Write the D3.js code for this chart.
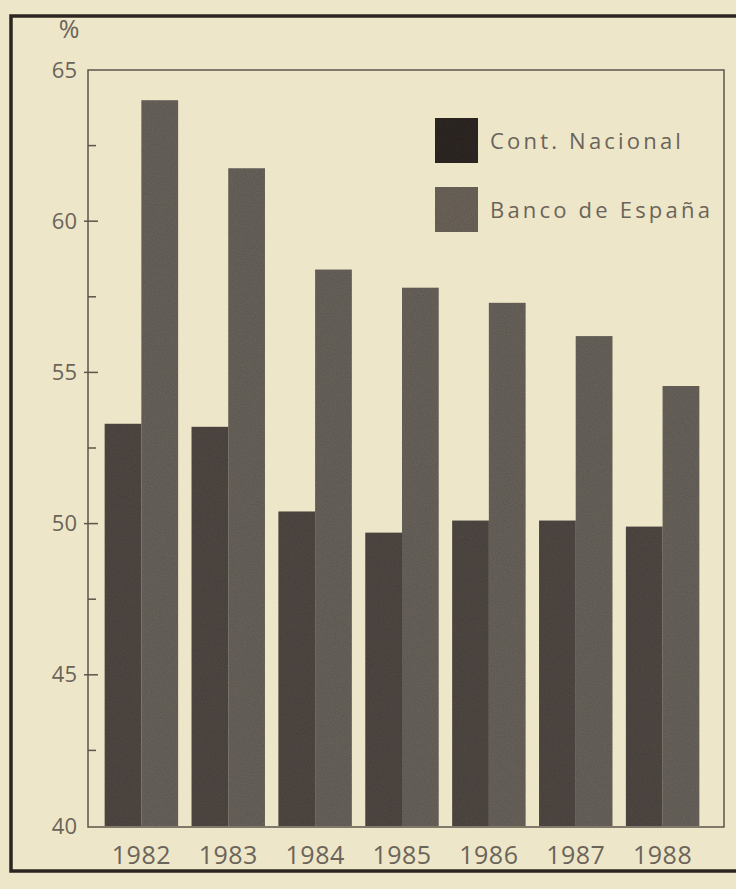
<!DOCTYPE html>
<html>
<head>
<meta charset="utf-8">
<script src="https://cdn.jsdelivr.net/npm/d3@7/dist/d3.min.js"></script>
<style>
  html, body { margin: 0; padding: 0; background: #eee6c9; }
  svg { display: block; }
  text { font-family: "Open Sans", "DejaVu Sans", sans-serif; fill: #6a6459; }
</style>
</head>
<body>
<script>
const years = ["1982", "1983", "1984", "1985", "1986", "1987", "1988"];
const contNacional = [53.3, 53.2, 50.4, 49.7, 50.1, 50.1, 49.9];
const bancoEspana = [64.0, 61.75, 58.4, 57.8, 57.3, 56.2, 54.55];
const seriesNames = ["Cont. Nacional", "Banco de España"];
const yTicks = [40, 45, 50, 55, 60, 65];
const yMinorTicks = [42.5, 47.5, 52.5, 57.5, 62.5];

const W = 736, H = 889;
const colors = ["#524c46", "#6c665e"];
const legendColors = ["#302b27", "#6f675d"];

const svg = d3.select("body").append("svg").attr("width", W).attr("height", H);

svg.append("rect").attr("width", W).attr("height", H).attr("fill", "#eee6c9");

// outer frame
svg.append("rect")
  .attr("x", 11).attr("y", 16).attr("width", W + 20).attr("height", 855)
  .attr("fill", "none").attr("stroke", "#2b2621").attr("stroke-width", 3.5);

const plot = { left: 88, right: 724, top: 70, bottom: 827 };

const y = d3.scaleLinear().domain([40, 65]).range([826, 70]);
const x0 = d3.scaleBand().domain(years).range([96, 708]).paddingInner(0.155).paddingOuter(0.1);
const x1 = d3.scaleBand().domain(seriesNames).range([0, x0.bandwidth()]);

// grain filter
const defs = svg.append("defs");
const f = defs.append("filter").attr("id", "grain").attr("x", 0).attr("y", 0).attr("width", 1).attr("height", 1);
f.append("feTurbulence").attr("type", "fractalNoise").attr("baseFrequency", 0.9).attr("numOctaves", 2).attr("seed", 3).attr("result", "noise");
f.append("feColorMatrix").attr("in", "noise").attr("type", "matrix")
  .attr("values", "0 0 0 0 0  0 0 0 0 0  0 0 0 0 0  0 0 0 0.35 0").attr("result", "dark");
f.append("feComposite").attr("in", "dark").attr("in2", "SourceGraphic").attr("operator", "in").attr("result", "darkIn");
f.append("feMerge").selectAll("feMergeNode").data(["SourceGraphic", "darkIn"]).join("feMergeNode").attr("in", d => d);

// bars
const g = svg.append("g");
years.forEach((yr, i) => {
  const vals = [contNacional[i], bancoEspana[i]];
  g.selectAll(null).data(vals).join("rect")
    .attr("x", (d, j) => x0(yr) + x1(seriesNames[j]))
    .attr("y", d => y(d))
    .attr("width", x1.bandwidth())
    .attr("height", d => y(40) - y(d))
    .attr("fill", (d, j) => colors[j])
    .attr("filter", "url(#grain)");
});

// plot frame
svg.append("rect")
  .attr("x", plot.left).attr("y", plot.top)
  .attr("width", plot.right - plot.left).attr("height", plot.bottom - plot.top)
  .attr("fill", "none").attr("stroke", "#5c5549").attr("stroke-width", 1.5);

// y axis ticks
const yAxis = d3.axisLeft(y).tickValues(yTicks).tickSize(0).tickPadding(11).tickFormat(d3.format("d"));
const ya = svg.append("g").attr("transform", `translate(${plot.left},0)`).call(yAxis);
ya.select(".domain").remove();
ya.selectAll("text").attr("font-size", 22).attr("fill", "#6a6459")
  .attr("font-family", "'Open Sans', 'DejaVu Sans', sans-serif");
svg.selectAll(null).data(yTicks.slice(1, -1)).join("line")
  .attr("x1", plot.left - 4).attr("x2", plot.left + 10)
  .attr("y1", d => y(d)).attr("y2", d => y(d))
  .attr("stroke", "#5c5549").attr("stroke-width", 1.5);
svg.selectAll(null).data(yMinorTicks).join("line")
  .attr("x1", plot.left).attr("x2", plot.left + 8)
  .attr("y1", d => y(d)).attr("y2", d => y(d))
  .attr("stroke", "#5c5549").attr("stroke-width", 1.5);

// % label
svg.append("text").attr("x", 69).attr("y", 38).attr("text-anchor", "middle")
  .attr("font-size", 25).text("%");

// x axis
const xAxis = d3.axisBottom(x0).tickSize(0).tickPadding(19);
const xa = svg.append("g").attr("transform", `translate(0,${plot.bottom})`).call(xAxis);
xa.select(".domain").remove();
xa.selectAll("text").attr("font-size", 25).attr("fill", "#6a6459").attr("letter-spacing", 0.5)
  .attr("font-family", "'Open Sans', 'DejaVu Sans', sans-serif");

// legend
const legend = svg.append("g");
seriesNames.forEach((name, j) => {
  const ly = 118 + j * 69;
  legend.append("rect").attr("x", 435).attr("y", ly).attr("width", 43).attr("height", 45)
    .attr("fill", legendColors[j]).attr("filter", "url(#grain)");
  legend.append("text").attr("x", 490).attr("y", ly + 31).attr("font-size", 22)
    .attr("letter-spacing", 3.2).text(name);
});
</script>
</body>
</html>
